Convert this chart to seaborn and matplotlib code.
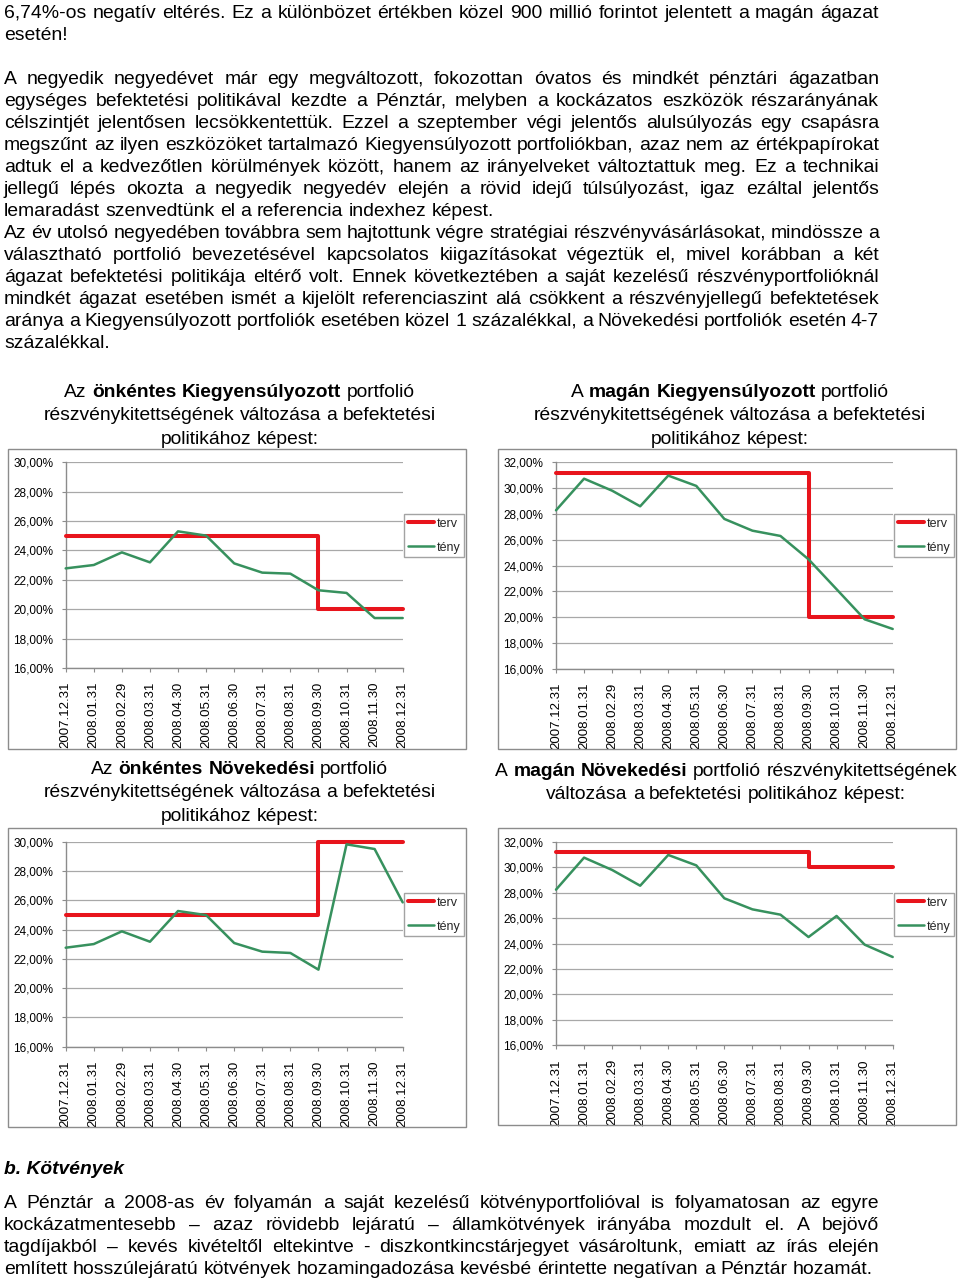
import matplotlib
matplotlib.use('Agg')
import numpy as np
import pandas as pd
import matplotlib.pyplot as plt
import seaborn as sns
from matplotlib import font_manager
from matplotlib.ticker import FuncFormatter
from matplotlib.patches import Rectangle

W, H = 960, 1282

# ---- data ----
datumok = ['2007.12.31', '2008.01.31', '2008.02.29', '2008.03.31', '2008.04.30',
           '2008.05.31', '2008.06.30', '2008.07.31', '2008.08.31', '2008.09.30',
           '2008.10.31', '2008.11.30', '2008.12.31']

onk_kiegy_terv = [25.0, 25.0, 25.0, 25.0, 25.0, 25.0, 25.0, 25.0, 25.0, 25.0, 20.0, 20.0, 20.0]
onk_kiegy_teny = [22.78, 23.01, 23.87, 23.19, 25.30, 25.01, 23.12, 22.49, 22.42, 21.29, 21.11, 19.40, 19.40]

magan_kiegy_terv = [31.2, 31.2, 31.2, 31.2, 31.2, 31.2, 31.2, 31.2, 31.2, 31.2, 20.0, 20.0, 20.0]
magan_kiegy_teny = [28.28, 30.73, 29.80, 28.59, 30.97, 30.17, 27.61, 26.70, 26.29, 24.48, 22.16, 19.83, 19.08]

onk_novek_terv = [25.0, 25.0, 25.0, 25.0, 25.0, 25.0, 25.0, 25.0, 25.0, 25.0, 30.0, 30.0, 30.0]
onk_novek_teny = [22.77, 23.02, 23.89, 23.18, 25.28, 25.00, 23.09, 22.50, 22.41, 21.27, 29.84, 29.52, 25.87]

magan_novek_terv = [31.2, 31.2, 31.2, 31.2, 31.2, 31.2, 31.2, 31.2, 31.2, 31.2, 30.0, 30.0, 30.0]
magan_novek_teny = [28.25, 30.77, 29.80, 28.56, 30.98, 30.16, 27.57, 26.70, 26.28, 24.52, 26.18, 23.92, 22.95]

sorozat_nevek = ['terv', 'tény']

# ---- page text ----
bekezdes1 = [
    "6,74%-os negatív eltérés. Ez a különbözet értékben közel 900 millió forintot jelentett a magán ágazat",
    "esetén!",
]
bekezdes2 = [
    "A negyedik negyedévet már egy megváltozott, fokozottan óvatos és mindkét pénztári ágazatban",
    "egységes befektetési politikával kezdte a Pénztár, melyben a kockázatos eszközök részarányának",
    "célszintjét jelentősen lecsökkentettük. Ezzel a szeptember végi jelentős alulsúlyozás egy csapásra",
    "megszűnt az ilyen eszközöket tartalmazó Kiegyensúlyozott portfoliókban, azaz nem az értékpapírokat",
    "adtuk el a kedvezőtlen körülmények között, hanem az irányelveket változtattuk meg. Ez a technikai",
    "jellegű lépés okozta a negyedik negyedév elején a rövid idejű túlsúlyozást, igaz ezáltal jelentős",
    "lemaradást szenvedtünk el a referencia indexhez képest.",
    "Az év utolsó negyedében továbbra sem hajtottunk végre stratégiai részvényvásárlásokat, mindössze a",
    "választható portfolió bevezetésével kapcsolatos kiigazításokat végeztük el, mivel korábban a két",
    "ágazat befektetési politikája eltérő volt. Ennek következtében a saját kezelésű részvényportfolióknál",
    "mindkét ágazat esetében ismét a kijelölt referenciaszint alá csökkent a részvényjellegű befektetések",
    "aránya a Kiegyensúlyozott portfoliók esetében közel 1 százalékkal, a Növekedési portfoliók esetén 4-7",
    "százalékkal.",
]
utolso_sorok = {"esetén!", "lemaradást szenvedtünk el a referencia indexhez képest.", "százalékkal.",
                "említett hosszúlejáratú kötvények hozamingadozása kevésbé érintette negatívan a Pénztár hozamát."}
alcim = "b. Kötvények"
bekezdes3 = [
    "A Pénztár a 2008-as év folyamán a saját kezelésű kötvényportfolióval is folyamatosan az egyre",
    "kockázatmentesebb – azaz rövidebb lejáratú – államkötvények irányába mozdult el. A bejövő",
    "tagdíjakból – kevés kivételtől eltekintve - diszkontkincstárjegyet vásároltunk, emiatt az írás elején",
    "említett hosszúlejáratú kötvények hozamingadozása kevésbé érintette negatívan a Pénztár hozamát.",
]

# chart titles: list of lines, each a list of (text, bold)
cim_onk_kiegy = [[("Az", False), ("önkéntes Kiegyensúlyozott", True), ("portfolió", False)],
                 [("részvénykitettségének változása a befektetési", False)],
                 [("politikához képest:", False)]]
cim_magan_kiegy = [[("A", False), ("magán Kiegyensúlyozott", True), ("portfolió", False)],
                   [("részvénykitettségének változása a befektetési", False)],
                   [("politikához képest:", False)]]
cim_onk_novek = [[("Az", False), ("önkéntes Növekedési", True), ("portfolió", False)],
                 [("részvénykitettségének változása a befektetési", False)],
                 [("politikához képest:", False)]]
cim_magan_novek = [[("A", False), ("magán Növekedési", True), ("portfolió részvénykitettségének", False)],
                   [("változása a befektetési politikához képest:", False)]]

# ---- styling ----
sns.set_theme(style='white')
plt.rcParams['font.family'] = ['Liberation Sans', 'DejaVu Sans']


def has_font(name):
    try:
        font_manager.findfont(font_manager.FontProperties(family=name), fallback_to_default=False)
        return True
    except Exception:
        return False


NARROW = has_font('Liberation Sans Narrow')
narrow_fam = ['Liberation Sans Narrow', 'Liberation Sans'] if NARROW else ['Liberation Sans']

PIROS = '#E8141C'
ZOLD = '#37915E'
SZURKE = '#8C8C8C'

fig = plt.figure(figsize=(W / 100, H / 100), dpi=100)
renderer = fig.canvas.get_renderer()


def measure(s, **kw):
    t = fig.text(0, 0, s, **kw)
    w = t.get_window_extent(renderer).width
    t.remove()
    return w


def fit_size(s, target, **kw):
    # font size that makes s about target pixels wide
    return 10.0 * target / measure(s, size=10, **kw)


def place_runs(runs, x0, base, gap, **kw):
    x = x0
    for s, extra in runs:
        t = fig.text(x / W, 1 - base / H, s, ha='left', va='baseline', **kw, **extra)
        x += t.get_window_extent(renderer).width + gap


def paragraph(lines, base0, step, x0=4, x1=879, **kw):
    space = measure('a a', **kw) - measure('aa', **kw)
    for i, line in enumerate(lines):
        words = [(w, {}) for w in line.split(' ')]
        base = base0 + i * step
        if line in utolso_sorok or len(words) == 1:
            place_runs(words, x0, base, space, **kw)
        else:
            tot = sum(measure(w, **kw) for w, _ in words)
            gap = (x1 - x0 - tot) / (len(words) - 1)
            place_runs(words, x0, base, gap, **kw)


def title(lines, cx, base0, step, size=13.9):
    kw = dict(size=size, color='black')
    space = measure('a a', **kw) - measure('aa', **kw)
    for i, line in enumerate(lines):
        runs = []
        for txt, bold in line:
            for w in txt.split(' '):
                runs.append((w, {'weight': 'bold' if bold else 'normal'}))
        widths = [measure(w, **kw, **e) for w, e in runs]
        tot = sum(widths) + space * (len(runs) - 1)
        place_runs(runs, cx - tot / 2, base0 + i * step, space, **kw)


body = dict(size=13.95, color='black')
if NARROW:
    nsize = 13.7
else:
    nsize = min(fit_size(bekezdes1[0], 866, family=narrow_fam),
                fit_size(bekezdes3[2], 866, family=narrow_fam))
narrow = dict(size=nsize, color='black', family=narrow_fam)
alcim_size = fit_size(alcim, 120, family=narrow_fam, weight='bold', style='italic')

paragraph(bekezdes1, 18, 22, **narrow)
paragraph(bekezdes2, 84, 22, **body)
fig.text(4 / W, 1 - 1174 / H, alcim, ha='left', va='baseline', weight='bold', style='italic',
         size=alcim_size, family=narrow_fam, color='black')
paragraph(bekezdes3, 1208, 22, **narrow)

pct = FuncFormatter(lambda v, p: f"{v:.2f}".replace('.', ',') + '%')


def chart(box, area, ytop, terv, teny, leg_xy):
    x0, y0, x1, y1 = box
    fig.patches.append(Rectangle((x0 / W, 1 - y1 / H), (x1 - x0) / W, (y1 - y0) / H,
                                 transform=fig.transFigure, fill=False, edgecolor=SZURKE, lw=1))
    a0, b0, a1, b1 = area
    ax = fig.add_axes([a0 / W, 1 - b1 / H, (a1 - a0) / W, (b1 - b0) / H])
    df = pd.DataFrame({'datum': datumok, 'terv': terv, 'teny': teny})
    sns.lineplot(data=df, x='datum', y='terv', ax=ax, color=PIROS, lw=2.9, sort=False,
                 drawstyle='steps-pre', label=sorozat_nevek[0], clip_on=False, zorder=3)
    sns.lineplot(data=df, x='datum', y='teny', ax=ax, color=ZOLD, lw=1.8, sort=False,
                 label=sorozat_nevek[1], clip_on=False, zorder=4)
    ax.set_xlim(0, 12)
    ax.set_ylim(16, ytop)
    ax.set_yticks(np.arange(16, ytop + 0.1, 2))
    ax.yaxis.set_major_formatter(pct)
    ax.set_xticks(range(len(datumok)))
    ax.set_xticklabels(datumok, rotation=90)
    ax.set_xlabel('')
    ax.set_ylabel('')
    ax.set_facecolor('none')
    for s in ['top', 'right']:
        ax.spines[s].set_visible(False)
    for s in ['left', 'bottom']:
        ax.spines[s].set_color(SZURKE)
        ax.spines[s].set_linewidth(1)
    ax.yaxis.grid(True, color='#A8A8A8', lw=0.9)
    ax.xaxis.grid(False)
    ax.set_axisbelow(True)
    ax.tick_params(axis='y', left=True, length=3, width=0.8, color=SZURKE, pad=6,
                   labelsize=9.3 if NARROW else 8.5, labelcolor='black')
    ax.tick_params(axis='x', bottom=True, length=3, width=0.8, color=SZURKE, pad=7,
                   labelsize=9.5, labelcolor='black')
    if NARROW:
        for lb in ax.get_yticklabels():
            lb.set_fontfamily(narrow_fam)
    leg = ax.legend(loc='upper left', bbox_to_anchor=(leg_xy[0] / W, 1 - leg_xy[1] / H),
                    bbox_transform=fig.transFigure, frameon=True, fancybox=False,
                    edgecolor=SZURKE, prop={'family': narrow_fam, 'size': 9.8 if NARROW else 9.0},
                    handlelength=2.1, handletextpad=0.2, labelspacing=0.95, borderpad=0.3,
                    borderaxespad=0)
    leg.get_frame().set_linewidth(1)
    return ax


chart((8, 449, 466, 749), (65.7, 462.3, 402.7, 668.0), 30, onk_kiegy_terv, onk_kiegy_teny, (404, 514))
chart((498, 449, 956, 749), (556.0, 462.3, 892.7, 668.7), 32, magan_kiegy_terv, magan_kiegy_teny, (894, 514))
chart((8, 828, 466, 1127), (65.7, 842.0, 402.7, 1046.7), 30, onk_novek_terv, onk_novek_teny, (404, 893))
chart((498, 828, 956, 1125), (556.0, 842.0, 892.7, 1045.3), 32, magan_novek_terv, magan_novek_teny, (894, 893))

title(cim_onk_kiegy, 239.5, 397, 23.4)
title(cim_magan_kiegy, 729.7, 397, 23.4)
title(cim_onk_novek, 239.5, 774, 23.4)
title(cim_magan_novek, 726, 775.5, 23.4)

fig.savefig('out.png', dpi=100)
